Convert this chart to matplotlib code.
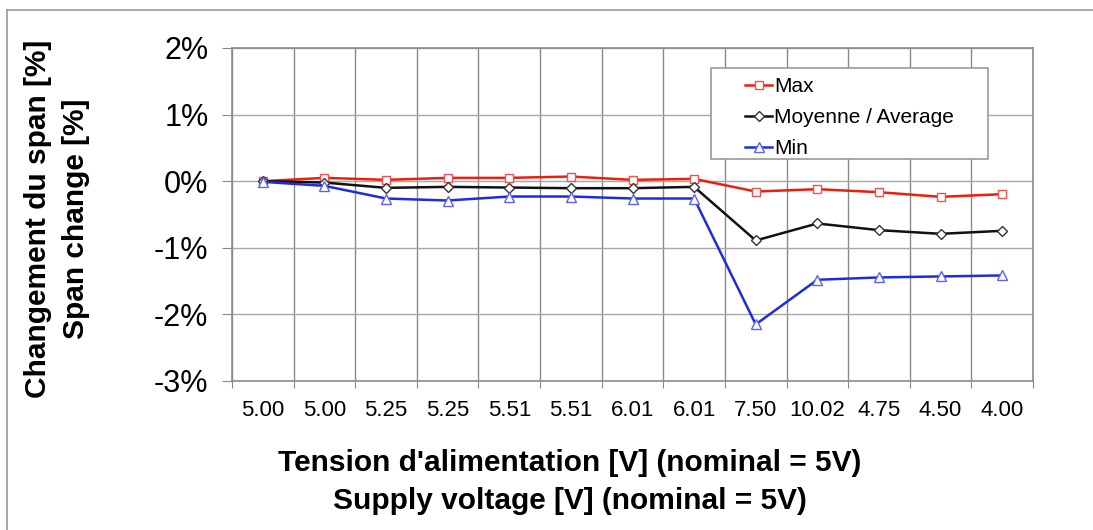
import matplotlib
matplotlib.use("Agg")
import matplotlib.pyplot as plt
from matplotlib.lines import Line2D
from matplotlib.patches import Rectangle

# data (span change in %)
voltage_labels = ["5.00", "5.00", "5.25", "5.25", "5.51", "5.51", "6.01",
                  "6.01", "7.50", "10.02", "4.75", "4.50", "4.00"]
max_change = [0.00, 0.05, 0.02, 0.05, 0.05, 0.07, 0.02, 0.035,
              -0.155, -0.12, -0.165, -0.235, -0.195]
avg_change = [0.00, -0.02, -0.10, -0.085, -0.095, -0.105, -0.105, -0.085,
              -0.89, -0.635, -0.735, -0.79, -0.745]
min_change = [-0.01, -0.07, -0.26, -0.29, -0.23, -0.23, -0.26, -0.26,
              -2.15, -1.48, -1.445, -1.43, -1.415]
y_ticks = [-3, -2, -1, 0, 1, 2]

plt.rcParams["font.family"] = ["Liberation Sans", "DejaVu Sans"]

W, H = 1093, 530
fig = plt.figure(figsize=(W / 100, H / 100), dpi=100)
ax = fig.add_axes([232 / W, 1 - 381 / H, (1033 - 232) / W, (381 - 48) / H])

x = list(range(len(voltage_labels)))

ax.plot(x, max_change, color="#e8200c", lw=1.8, marker="s", ms=6,
        mfc="white", mec="#f05050", mew=1.0, label="Max", zorder=3)
ax.plot(x, avg_change, color="#111111", lw=1.8, marker="D", ms=5.5,
        mfc="white", mec="#333333", mew=1.0, label="Moyenne / Average", zorder=4)
ax.plot(x, min_change, color="#1e2ddc", lw=1.8, marker="^", ms=7,
        mfc="white", mec="#5a63f0", mew=1.0, label="Min", zorder=5)

# axes styling
ax.set_xlim(-0.5, len(voltage_labels) - 0.5)
ax.set_ylim(-3, 2)
ax.set_yticks(y_ticks)
ax.set_yticklabels([f"{v}%" for v in y_ticks], fontsize=22)
ax.set_xticks([i - 0.5 for i in range(len(voltage_labels) + 1)])
ax.set_xticklabels([])
ax.set_xticks(x, minor=True)
ax.set_xticklabels(voltage_labels, minor=True, fontsize=16)
ax.tick_params(axis="x", which="major", length=5, color="#888888")
ax.tick_params(axis="x", which="minor", length=0, pad=14)
ax.tick_params(axis="y", length=7, pad=10, color="#888888")

ax.grid(True, axis="x", which="major", color="#8a8a8a", lw=1.0)
ax.grid(True, axis="y", color="#a8a8a8", lw=1.0)
ax.set_axisbelow(True)
for sp in ax.spines.values():
    sp.set_color("#8c8c8c")
    sp.set_linewidth(1.2)

# legend: box drawn separately, entries placed inside it
box = Rectangle((711 / W, 1 - 159 / H), 277 / W, 91 / H, transform=fig.transFigure,
                facecolor="white", edgecolor="#999999", lw=1.2, zorder=9)
fig.add_artist(box)
leg = ax.legend(loc="upper left", bbox_to_anchor=(745 / W, 1 - 77 / H),
                bbox_transform=fig.transFigure, frameon=False,
                fontsize=15, handlelength=1.3, handletextpad=0.1,
                labelspacing=0.58, borderpad=0, borderaxespad=0)
leg.set_zorder(10)
fig.add_artist(leg)

# axis titles
fig.text(570 / W, 1 - 482 / H,
         "Tension d'alimentation [V] (nominal = 5V)\nSupply voltage [V] (nominal = 5V)",
         ha="center", va="center", fontsize=21.5, fontweight="bold",
         multialignment="center", linespacing=1.42)
fig.text(57 / W, 1 - 219 / H, "Changement du span [%]\nSpan change [%]",
         ha="center", va="center", rotation=90, fontsize=21.5, fontweight="bold",
         multialignment="center", linespacing=1.42)

# outer frame (top and left edges)
fig.add_artist(Line2D([7 / W, 1.0], [1 - 10 / H, 1 - 10 / H],
                      transform=fig.transFigure, color="#999999", lw=1.2))
fig.add_artist(Line2D([7 / W, 7 / W], [0.0, 1 - 10 / H],
                      transform=fig.transFigure, color="#999999", lw=1.2))

fig.savefig("out.png", dpi=100)
